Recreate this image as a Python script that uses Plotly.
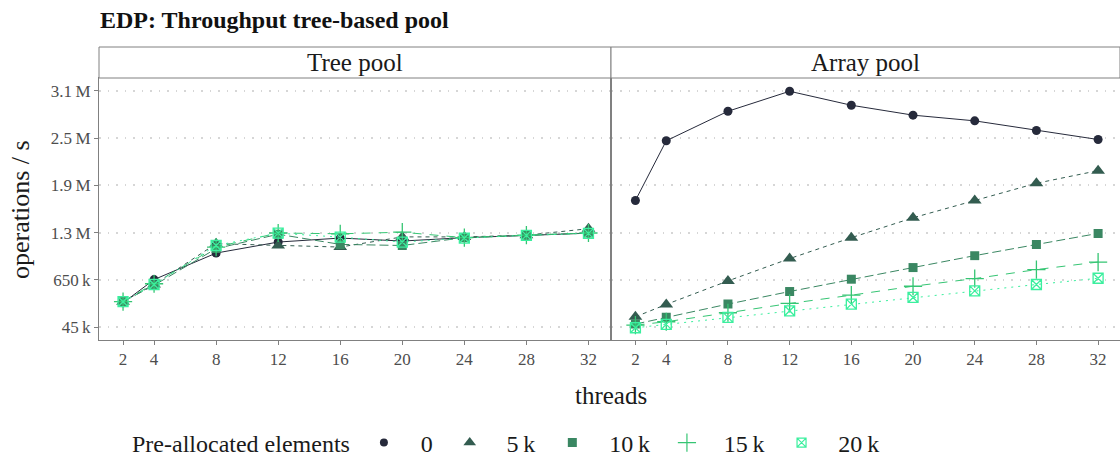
import plotly.graph_objects as go

threads = [2, 4, 8, 12, 16, 20, 24, 28, 32]
series_names = ["0", "5\u2009k", "10\u2009k", "15\u2009k", "20\u2009k"]

tree_0 = [355e3, 653e3, 993e3, 1134e3, 1185e3, 1147e3, 1190e3, 1219e3, 1248e3]
tree_5k = [370e3, 590e3, 1113e3, 1090e3, 1070e3, 1200e3, 1200e3, 1222e3, 1305e3]
tree_10k = [370e3, 580e3, 1050e3, 1234e3, 1104e3, 1090e3, 1190e3, 1220e3, 1250e3]
tree_15k = [370e3, 600e3, 1070e3, 1250e3, 1240e3, 1260e3, 1190e3, 1222e3, 1250e3]
tree_20k = [370e3, 590e3, 1090e3, 1248e3, 1197e3, 1134e3, 1185e3, 1220e3, 1245e3]

array_0 = [1666e3, 2432e3, 2810e3, 3066e3, 2887e3, 2760e3, 2687e3, 2563e3, 2448e3]
array_5k = [176e3, 335e3, 636e3, 922e3, 1190e3, 1445e3, 1666e3, 1887e3, 2049e3]
array_10k = [83e3, 169e3, 339e3, 500e3, 658e3, 807e3, 960e3, 1104e3, 1245e3]
array_15k = [70e3, 113e3, 228e3, 347e3, 453e3, 568e3, 666e3, 781e3, 878e3]
array_20k = [36e3, 79e3, 169e3, 253e3, 339e3, 424e3, 508e3, 590e3, 670e3]

ytick_vals = [45e3, 650e3, 1255e3, 1860e3, 2465e3, 3070e3]
ytick_text = ["45\u2009k", "650\u2009k", "1.3\u2009M", "1.9\u2009M", "2.5\u2009M", "3.1\u2009M"]

tree = [tree_0, tree_5k, tree_10k, tree_15k, tree_20k]
arr = [array_0, array_5k, array_10k, array_15k, array_20k]

colors = ["#262a3b", "#335c50", "#3a8762", "#35c573", "#3bef9e"]
symbols = ["circle", "triangle-up", "square", "cross-thin-open", "square-x-open"]
msizes = [9, 12, 9, 13, 10]
leg_sizes = [8, 11, 9, 13, 9]
dashes = ["solid", "4px,4px", "9px,4px", "9px,8px", "2px,5px"]

FONT = "Liberation Serif"
TXT = "#1a1a1a"
fig = go.Figure()

for panel, data in ((1, tree), (2, arr)):
    xa = "x" if panel == 1 else "x2"
    ya = "y" if panel == 1 else "y2"
    for i in range(5):
        fig.add_trace(go.Scatter(
            x=threads, y=data[i], mode="lines+markers", xaxis=xa, yaxis=ya,
            line=dict(color=colors[i], width=1, dash=dashes[i]),
            marker=dict(color=colors[i], symbol=symbols[i], size=msizes[i],
                        line=dict(color=colors[i], width=1.3 if i >= 3 else 0)),
            showlegend=False, name=series_names[i]))

# legend-only entries (markers only)
for i in range(5):
    fig.add_trace(go.Scatter(
        x=[None], y=[None], mode="markers", xaxis="x", yaxis="y",
        marker=dict(color=colors[i], symbol=symbols[i], size=leg_sizes[i],
                    line=dict(color=colors[i], width=1.2 if i >= 3 else 0)),
        name="\u2002\u2009" + series_names[i] + "\u2002", showlegend=True))

W, H = 1120, 459
L, R_px, T, B_px = 99, 1120, 47, 340
plot_w = R_px - L
plot_h = B_px - T
split = (611 - L) / plot_w
panel_top = (B_px - 78) / plot_h

axis_common = dict(showline=True, linecolor="#808080", linewidth=1, mirror=True,
                   ticks="outside", ticklen=4, tickcolor="#808080",
                   tickfont=dict(family=FONT, size=17, color="#4d4d4d"), zeroline=False)

grid = dict(showgrid=True, gridcolor="#d6d6d6", griddash="1.5px,7px", gridwidth=1.5)

fig.update_layout(
    width=W, height=H, plot_bgcolor="white", paper_bgcolor="white",
    margin=dict(l=L, r=W - R_px, t=T, b=H - B_px, autoexpand=False),
    font=dict(family=FONT, color=TXT),
    title=dict(text="<b>EDP: Throughput tree-based pool</b>", x=100 / W, xanchor="left",
               y=1 - 20 / H, yanchor="middle", yref="container",
               font=dict(family=FONT, size=24, color="#111111")),
    xaxis=dict(domain=[0, split - 0.0005], range=[0.45, 33.42], tickvals=threads,
               showgrid=False, anchor="y", **axis_common),
    xaxis2=dict(domain=[split + 0.0005, 1], range=[0.45, 33.42], tickvals=threads,
                showgrid=False, anchor="y2", **axis_common),
    yaxis=dict(domain=[0, panel_top], range=[-121e3, 3236e3], tickvals=ytick_vals,
               ticktext=ytick_text, anchor="x", **grid, **axis_common),
    yaxis2=dict(domain=[0, panel_top], range=[-121e3, 3236e3], tickvals=ytick_vals,
                showticklabels=False, ticks="", anchor="x2", **grid,
                **{k: v for k, v in axis_common.items() if k not in ("ticks",)}),
    legend=dict(orientation="h", x=(130 - L) / plot_w, xanchor="left",
                y=(B_px - 443) / plot_h, yanchor="middle",
                title=dict(text="Pre-allocated elements ", side="left",
                           font=dict(family=FONT, size=24, color=TXT)),
                font=dict(family=FONT, size=24, color=TXT),
                itemwidth=30, tracegroupgap=0),
)

# strips
for (x0, x1, label) in ((0, split, "Tree pool"), (split, 1, "Array pool")):
    fig.add_shape(type="rect", xref="paper", yref="paper", x0=x0, x1=x1,
                  y0=panel_top, y1=1, line=dict(color="#808080", width=1), fillcolor="white")
    fig.add_annotation(text=label, xref="paper", yref="paper", x=(x0 + x1) / 2,
                       y=(panel_top + 1) / 2, showarrow=False, xanchor="center",
                       yanchor="middle", font=dict(family=FONT, size=25, color=TXT))

fig.add_annotation(text="threads", xref="paper", yref="paper", x=(611 - L) / plot_w,
                   y=(B_px - 395) / plot_h, showarrow=False, xanchor="center",
                   yanchor="middle", font=dict(family=FONT, size=25, color=TXT))
fig.add_annotation(text="operations / s", xref="paper", yref="paper",
                   x=(20 - L) / plot_w, y=(B_px - 210) / plot_h, textangle=-90,
                   showarrow=False, xanchor="center", yanchor="middle",
                   font=dict(family=FONT, size=26, color=TXT))

fig.write_html("out.html", post_script="document.body.style.margin='0';",
               config={"displayModeBar": False})
